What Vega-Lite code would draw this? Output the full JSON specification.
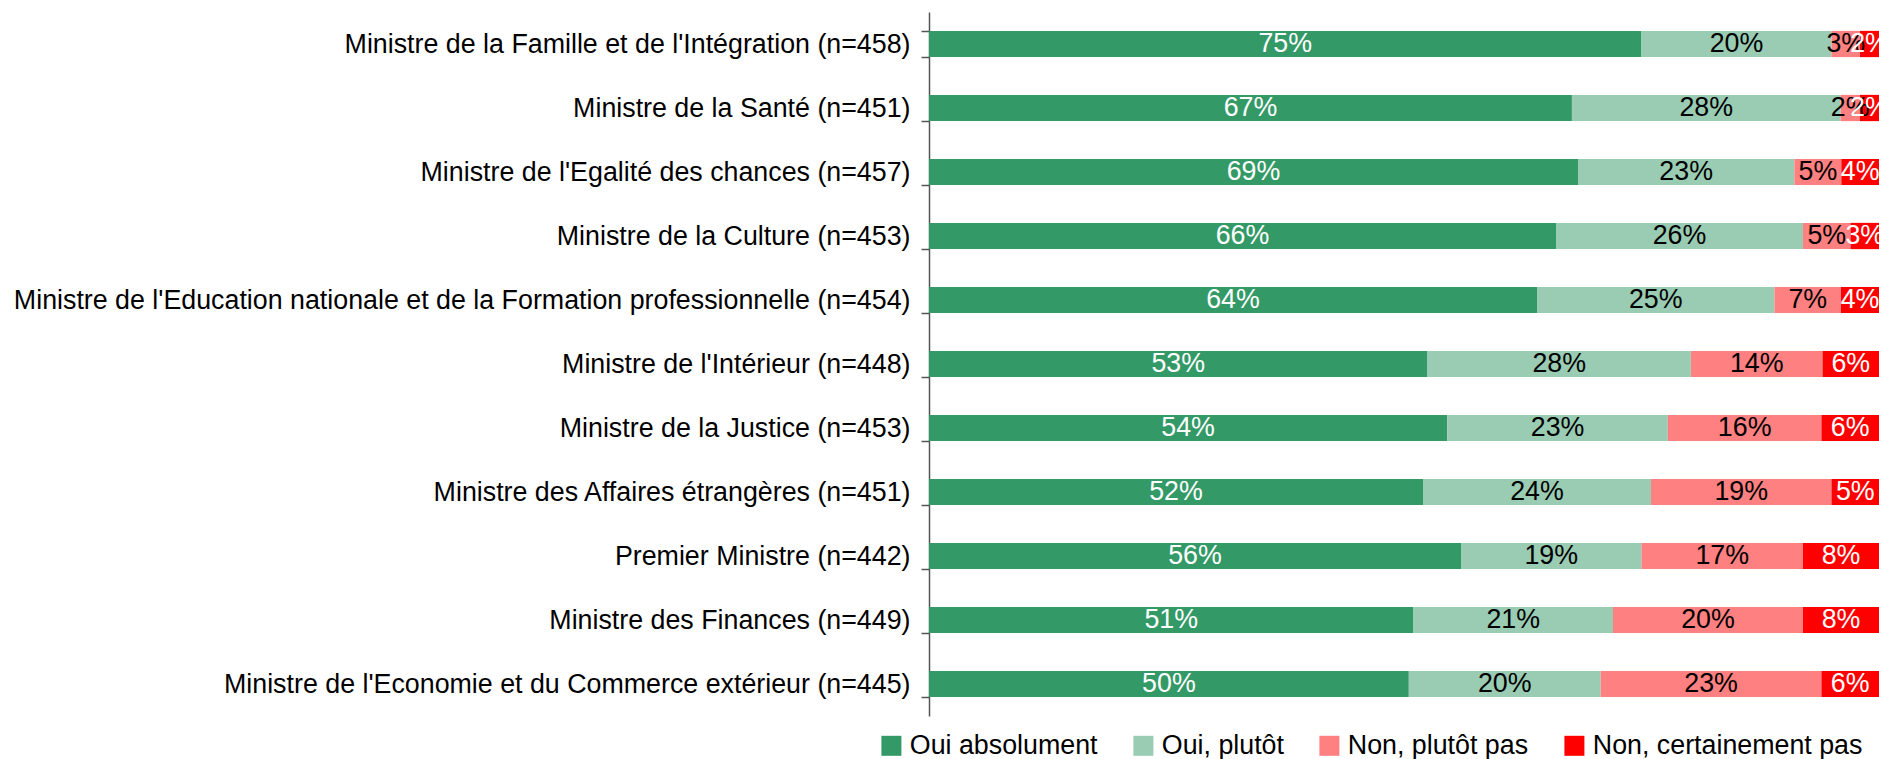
{
  "$schema": "https://vega.github.io/schema/vega-lite/v6.json",
  "autosize": {"type": "none"},
  "padding": {"left": 929, "top": 12, "right": 0, "bottom": 43},
  "width": 950,
  "height": 704,
  "background": "white",
  "config": {"view": {"stroke": null}, "font": "Liberation Sans"},
  "data": {"values": [
    {"item": "Ministre de la Famille et de l'Intégration (n=458)", "rep": "Oui absolument", "k": 1, "v": 0.75},
    {"item": "Ministre de la Famille et de l'Intégration (n=458)", "rep": "Oui, plutôt", "k": 2, "v": 0.20},
    {"item": "Ministre de la Famille et de l'Intégration (n=458)", "rep": "Non, plutôt pas", "k": 3, "v": 0.03},
    {"item": "Ministre de la Famille et de l'Intégration (n=458)", "rep": "Non, certainement pas", "k": 4, "v": 0.02},
    {"item": "Ministre de la Santé (n=451)", "rep": "Oui absolument", "k": 1, "v": 0.67},
    {"item": "Ministre de la Santé (n=451)", "rep": "Oui, plutôt", "k": 2, "v": 0.28},
    {"item": "Ministre de la Santé (n=451)", "rep": "Non, plutôt pas", "k": 3, "v": 0.02},
    {"item": "Ministre de la Santé (n=451)", "rep": "Non, certainement pas", "k": 4, "v": 0.02},
    {"item": "Ministre de l'Egalité des chances (n=457)", "rep": "Oui absolument", "k": 1, "v": 0.69},
    {"item": "Ministre de l'Egalité des chances (n=457)", "rep": "Oui, plutôt", "k": 2, "v": 0.23},
    {"item": "Ministre de l'Egalité des chances (n=457)", "rep": "Non, plutôt pas", "k": 3, "v": 0.05},
    {"item": "Ministre de l'Egalité des chances (n=457)", "rep": "Non, certainement pas", "k": 4, "v": 0.04},
    {"item": "Ministre de la Culture (n=453)", "rep": "Oui absolument", "k": 1, "v": 0.66},
    {"item": "Ministre de la Culture (n=453)", "rep": "Oui, plutôt", "k": 2, "v": 0.26},
    {"item": "Ministre de la Culture (n=453)", "rep": "Non, plutôt pas", "k": 3, "v": 0.05},
    {"item": "Ministre de la Culture (n=453)", "rep": "Non, certainement pas", "k": 4, "v": 0.03},
    {"item": "Ministre de l'Education nationale et de la Formation professionnelle (n=454)", "rep": "Oui absolument", "k": 1, "v": 0.64},
    {"item": "Ministre de l'Education nationale et de la Formation professionnelle (n=454)", "rep": "Oui, plutôt", "k": 2, "v": 0.25},
    {"item": "Ministre de l'Education nationale et de la Formation professionnelle (n=454)", "rep": "Non, plutôt pas", "k": 3, "v": 0.07},
    {"item": "Ministre de l'Education nationale et de la Formation professionnelle (n=454)", "rep": "Non, certainement pas", "k": 4, "v": 0.04},
    {"item": "Ministre de l'Intérieur (n=448)", "rep": "Oui absolument", "k": 1, "v": 0.53},
    {"item": "Ministre de l'Intérieur (n=448)", "rep": "Oui, plutôt", "k": 2, "v": 0.28},
    {"item": "Ministre de l'Intérieur (n=448)", "rep": "Non, plutôt pas", "k": 3, "v": 0.14},
    {"item": "Ministre de l'Intérieur (n=448)", "rep": "Non, certainement pas", "k": 4, "v": 0.06},
    {"item": "Ministre de la Justice (n=453)", "rep": "Oui absolument", "k": 1, "v": 0.54},
    {"item": "Ministre de la Justice (n=453)", "rep": "Oui, plutôt", "k": 2, "v": 0.23},
    {"item": "Ministre de la Justice (n=453)", "rep": "Non, plutôt pas", "k": 3, "v": 0.16},
    {"item": "Ministre de la Justice (n=453)", "rep": "Non, certainement pas", "k": 4, "v": 0.06},
    {"item": "Ministre des Affaires étrangères (n=451)", "rep": "Oui absolument", "k": 1, "v": 0.52},
    {"item": "Ministre des Affaires étrangères (n=451)", "rep": "Oui, plutôt", "k": 2, "v": 0.24},
    {"item": "Ministre des Affaires étrangères (n=451)", "rep": "Non, plutôt pas", "k": 3, "v": 0.19},
    {"item": "Ministre des Affaires étrangères (n=451)", "rep": "Non, certainement pas", "k": 4, "v": 0.05},
    {"item": "Premier Ministre (n=442)", "rep": "Oui absolument", "k": 1, "v": 0.56},
    {"item": "Premier Ministre (n=442)", "rep": "Oui, plutôt", "k": 2, "v": 0.19},
    {"item": "Premier Ministre (n=442)", "rep": "Non, plutôt pas", "k": 3, "v": 0.17},
    {"item": "Premier Ministre (n=442)", "rep": "Non, certainement pas", "k": 4, "v": 0.08},
    {"item": "Ministre des Finances (n=449)", "rep": "Oui absolument", "k": 1, "v": 0.51},
    {"item": "Ministre des Finances (n=449)", "rep": "Oui, plutôt", "k": 2, "v": 0.21},
    {"item": "Ministre des Finances (n=449)", "rep": "Non, plutôt pas", "k": 3, "v": 0.20},
    {"item": "Ministre des Finances (n=449)", "rep": "Non, certainement pas", "k": 4, "v": 0.08},
    {"item": "Ministre de l'Economie et du Commerce extérieur (n=445)", "rep": "Oui absolument", "k": 1, "v": 0.50},
    {"item": "Ministre de l'Economie et du Commerce extérieur (n=445)", "rep": "Oui, plutôt", "k": 2, "v": 0.20},
    {"item": "Ministre de l'Economie et du Commerce extérieur (n=445)", "rep": "Non, plutôt pas", "k": 3, "v": 0.23},
    {"item": "Ministre de l'Economie et du Commerce extérieur (n=445)", "rep": "Non, certainement pas", "k": 4, "v": 0.06}
  ]},
  "transform": [
    {"stack": "v", "groupby": ["item"], "sort": [{"field": "k"}], "offset": "normalize", "as": ["s", "e"]}
  ],
  "encoding": {
    "y": {
      "field": "item", "type": "nominal", "sort": null, "title": null,
      "scale": {"paddingInner": 0.59, "paddingOuter": 0.295},
      "axis": {
        "labelFontSize": 26.8, "labelColor": "black", "labelLimit": 0, "labelPadding": 11,
        "tickSize": 8, "tickBand": "extent", "tickColor": "#555555", "tickWidth": 1.5,
        "domainColor": "#555555", "domainWidth": 1.5, "grid": false
      }
    }
  },
  "layer": [
    {
      "mark": {"type": "bar"},
      "encoding": {
        "x": {"field": "s", "type": "quantitative", "scale": {"domain": [0, 1]}, "axis": null},
        "x2": {"field": "e"},
        "color": {
          "field": "rep", "type": "nominal",
          "scale": {
            "domain": ["Oui absolument", "Oui, plutôt", "Non, plutôt pas", "Non, certainement pas"],
            "range": ["#339966", "#99CCB3", "#FF8080", "#FF0000"]
          },
          "legend": {
            "title": null, "orient": "none", "direction": "horizontal",
            "legendX": -51, "legendY": 720,
            "symbolType": "square", "symbolSize": 400, "symbolStrokeWidth": 0,
            "labelFontSize": 26.8, "labelColor": "black", "labelLimit": 400,
            "labelOffset": 5, "columnPadding": 32
          }
        }
      }
    },
    {
      "transform": [{"calculate": "(datum.s + datum.e) / 2", "as": "mid"}],
      "mark": {"type": "text", "fontSize": 26.8, "baseline": "middle", "align": "center"},
      "encoding": {
        "x": {"field": "mid", "type": "quantitative"},
        "text": {"field": "v", "type": "quantitative", "format": ".0%"},
        "color": {
          "field": "rep", "type": "nominal",
          "scale": {
            "domain": ["Oui absolument", "Oui, plutôt", "Non, plutôt pas", "Non, certainement pas"],
            "range": ["white", "black", "black", "white"]
          },
          "legend": null
        }
      }
    }
  ],
  "resolve": {"scale": {"color": "independent"}}
}
